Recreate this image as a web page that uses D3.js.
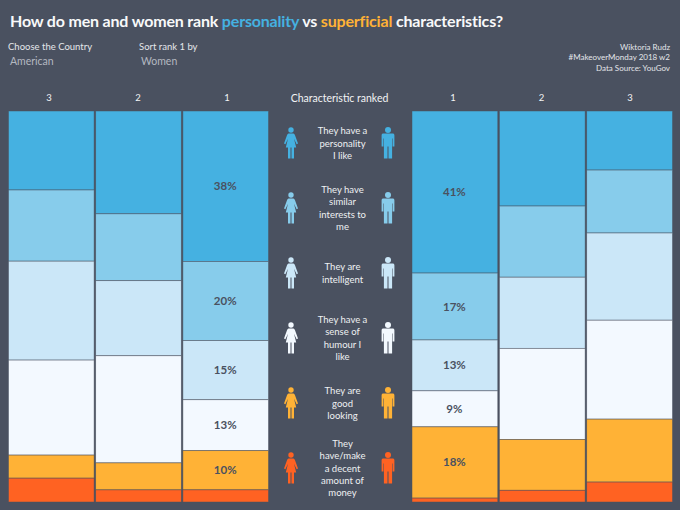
<!DOCTYPE html>
<html>
<head>
<meta charset="utf-8">
<script src="https://cdn.jsdelivr.net/npm/d3@7"></script>
<style>
  html, body { margin: 0; padding: 0; background: #4a5160; }
  svg { display: block; }
  text { font-family: Lato, "Open Sans", sans-serif; }
</style>
</head>
<body>
<svg id="chart" width="680" height="510"></svg>
<script>
'use strict';

var characteristics = ['personality', 'interests', 'intelligent', 'humour', 'looking', 'money'];
var labelLines = [
  ['They have a', 'personality', 'I like'],
  ['They have', 'similar', 'interests to', 'me'],
  ['They are', 'intelligent'],
  ['They have a', 'sense of', 'humour I', 'like'],
  ['They are', 'good', 'looking'],
  ['They', 'have/make', 'a decent', 'amount of', 'money']
];
var colors = ['#45b1e1', '#87cceb', '#cbe7f8', '#f3f9ff', '#ffb236', '#ff6222'];

var womenRank1 = [38.4, 20.2, 15.1, 13.0, 10.0, 3.1];
var womenRank2 = [26.3, 17.1, 19.2, 27.4, 6.9, 3.1];
var womenRank3 = [20.2, 18.2, 25.3, 24.3, 5.9, 6.1];
var menRank1 = [41.4, 17.1, 13.0, 9.2, 18.2, 1.0];
var menRank2 = [24.3, 18.2, 18.2, 23.3, 13.0, 3.0];
var menRank3 = [15.1, 16.1, 22.3, 25.3, 16.1, 5.1];

var womenRanks = ['3', '2', '1'];
var menRanks = ['1', '2', '3'];

var svg = d3.select('#chart');

var y = d3.scaleLinear().domain([0, 1]).range([111, 502]);
var xWomen = d3.scaleBand().domain(womenRanks).range([8.5, 268.5]).paddingInner(0.018);
var xMen = d3.scaleBand().domain(menRanks).range([412, 672.5]).paddingInner(0.018);
var headWomen = d3.scalePoint().domain(womenRanks).range([49, 227]);
var headMen = d3.scalePoint().domain(menRanks).range([453, 630]);
var iconY = d3.scaleBand().domain(characteristics).range([111.5, 501.5]);

// each column is normalised so it always fills the full height
function toRows(values) {
  var row = {};
  characteristics.forEach(function(c, i) { row[c] = values[i]; });
  return row;
}

var stack = d3.stack().keys(characteristics).offset(d3.stackOffsetExpand);

function drawColumns(cls, x, head, ranks, data) {
  var rows = data.map(toRows);
  var series = stack(rows);

  var layers = svg.append('g').attr('class', cls)
    .selectAll('g')
    .data(series)
    .enter().append('g')
      .attr('fill', function(d, i) { return colors[i]; });

  layers.selectAll('rect')
    .data(function(d) { return d; })
    .enter().append('rect')
      .attr('x', function(d, i) { return x(ranks[i]); })
      .attr('width', x.bandwidth())
      .attr('y', function(d) { return y(d[0]); })
      .attr('height', function(d) { return y(d[1]) - y(d[0]); })
      .attr('stroke', '#4a5160')
      .attr('stroke-opacity', 0.7)
      .attr('stroke-width', 0.7);

  // only rank 1 gets percent labels, and not the tiny bottom segment
  layers.each(function(layer, li) {
    var idx = ranks.indexOf('1');
    var d = layer[idx];
    var raw = data[idx][li];
    if (raw < 5) return;
    d3.select(this).append('text')
      .attr('x', x('1') + x.bandwidth() / 2 - 0.5)
      .attr('y', (y(d[0]) + y(d[1])) / 2 + 4)
      .attr('text-anchor', 'middle')
      .attr('font-size', 11.5)
      .attr('font-weight', 700)
      .attr('fill', '#4a5160')
      .text(Math.round(raw) + '%');
  });

  svg.append('g').selectAll('text')
    .data(ranks)
    .enter().append('text')
      .attr('x', function(d) { return head(d); })
      .attr('y', 101)
      .attr('text-anchor', 'middle')
      .attr('font-size', 9.5)
      .attr('fill', '#f2f3f5')
      .text(function(d) { return d; });
}

drawColumns('women', xWomen, headWomen, womenRanks, [womenRank3, womenRank2, womenRank1]);
drawColumns('men', xMen, headMen, menRanks, [menRank1, menRank2, menRank3]);

// pictograms, drawn around 0,0
var womanPath = 'M-1.6,-9.6 L1.6,-9.6 C3,-9.6 3.6,-9 4,-7.8 L7,0.6 L5.6,1.2 L3,-4.2 L5.2,4.4 L3,4.4 L3,15.4 L0.5,15.4 L0.5,4.4 L-0.5,4.4 L-0.5,15.4 L-3,15.4 L-3,4.4 L-5.2,4.4 L-3,-4.2 L-5.6,1.2 L-7,0.6 L-4,-7.8 C-3.6,-9 -3,-9.6 -1.6,-9.6 Z';
var manPath = 'M-4.4,-9.6 L4.4,-9.6 C5.8,-9.6 6.4,-9 6.4,-7.6 L6.4,3.6 L4.6,3.6 L4.6,-4.6 L4.1,-4.6 L4.1,15.4 L0.5,15.4 L0.5,3.6 L-0.5,3.6 L-0.5,15.4 L-4.1,15.4 L-4.1,-4.6 L-4.6,-4.6 L-4.6,3.6 L-6.4,3.6 L-6.4,-7.6 C-6.4,-9 -5.8,-9.6 -4.4,-9.6 Z';

var people = svg.append('g').selectAll('g')
  .data(characteristics)
  .enter().append('g')
    .attr('transform', function(d) { return 'translate(0,' + (iconY(d) + iconY.bandwidth() / 2 - 1) + ')'; })
    .attr('fill', function(d, i) { return colors[i]; });

[[291, womanPath, 2.7], [388, manPath, 3]].forEach(function(p) {
  var g = people.append('g').attr('transform', 'translate(' + p[0] + ',0)');
  g.append('circle').attr('cy', -13).attr('r', p[2]);
  g.append('path').attr('d', p[1]);
});

// characteristic names between the icons
var lineHeight = 12.2;
var names = svg.append('g').selectAll('text')
  .data(characteristics)
  .enter().append('text')
    .attr('text-anchor', 'middle')
    .attr('font-size', 9.5)
    .attr('fill', '#eef0f2');

names.each(function(c, i) {
  var lines = labelLines[i];
  var mid = iconY(c) + iconY.bandwidth() / 2 - 1;
  var top = mid - (lines.length - 1) * lineHeight / 2 + 3.5;
  d3.select(this).selectAll('tspan')
    .data(lines)
    .enter().append('tspan')
      .attr('x', 342.5)
      .attr('y', function(d, j) { return top + j * lineHeight; })
      .text(function(d) { return d; });
});

svg.append('text')
  .attr('x', 339.5).attr('y', 102)
  .attr('text-anchor', 'middle')
  .attr('font-size', 10.5)
  .attr('fill', '#f2f3f5')
  .text('Characteristic ranked');

// title
var title = svg.append('text')
  .attr('x', 10).attr('y', 27)
  .attr('font-size', 16)
  .attr('letter-spacing', -0.18)
  .attr('font-weight', 700)
  .attr('fill', '#f8f9fa');
title.append('tspan').text('How do men and women rank ');
title.append('tspan').attr('fill', colors[0]).text('personality');
title.append('tspan').text(' vs ');
title.append('tspan').attr('fill', colors[4]).text('superficial');
title.append('tspan').text(' characteristics?');

// filter controls
function control(x, caption, value) {
  svg.append('text').attr('x', x).attr('y', 49.5)
    .attr('font-size', 9.5).attr('fill', '#e4e6ea').text(caption);
  svg.append('text').attr('x', x + 2).attr('y', 64.5)
    .attr('font-size', 10.5).attr('fill', '#b4b8c0').text(value);
}
control(8, 'Choose the Country', 'American');
control(139, 'Sort rank 1 by', 'Women');

// credits
var credits = ['Wiktoria Rudz', '#MakeoverMonday 2018 w2', 'Data Source: YouGov'];
svg.append('g').selectAll('text')
  .data(credits)
  .enter().append('text')
    .attr('x', 670)
    .attr('y', function(d, i) { return 49.5 + i * 10.7; })
    .attr('text-anchor', 'end')
    .attr('font-size', 8)
    .attr('fill', '#e4e6ea')
    .text(function(d) { return d; });
</script>
</body>
</html>
